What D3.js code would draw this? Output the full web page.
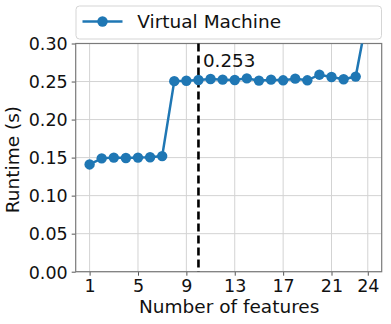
<!DOCTYPE html>
<html><head><meta charset="utf-8">
<script src="https://cdn.jsdelivr.net/npm/d3@7"></script>
<style>body{margin:0;background:#fff}svg{font-family:"DejaVu Sans",sans-serif}</style>
</head><body><svg id="c" width="391" height="324"></svg>
<script>
const features = [1,2,3,4,5,6,7,8,9,10,11,12,13,14,15,16,17,18,19,20,21,22,23,24];
const runtime = [0.141,0.149,0.150,0.1495,0.150,0.1505,0.152,0.2505,0.251,0.252,0.2533,0.2525,0.252,0.2542,0.2512,0.2525,0.2516,0.2538,0.2516,0.259,0.256,0.253,0.2565,0.34];
const xTicks = [1,5,9,13,17,21,24];
const yTicks = [0,0.05,0.10,0.15,0.20,0.25,0.30];
const seriesName = "Virtual Machine";
const markX = 10, markLabel = "0.253";

const svg = d3.select("#c");
const L=75.7,R=381.7,T=43.5,B=271.7;
const x = d3.scaleLinear().domain([-0.15,25.15]).range([L,R]);
const y = d3.scaleLinear().domain([0,0.30]).range([B,T]);

const defs = svg.append("defs");
defs.append("clipPath").attr("id","clip").append("rect").attr("x",L).attr("y",T).attr("width",R-L).attr("height",B-T);

// grid
svg.append("g").selectAll("line").data(xTicks).join("line")
 .attr("x1",d=>x(d)).attr("x2",d=>x(d)).attr("y1",T).attr("y2",B).attr("stroke","#d3d3d3").attr("stroke-width",1);
svg.append("g").selectAll("line").data(yTicks).join("line")
 .attr("x1",L).attr("x2",R).attr("y1",d=>y(d)).attr("y2",d=>y(d)).attr("stroke","#d3d3d3").attr("stroke-width",1);

// axes
const xa = svg.append("g").attr("transform",`translate(0,${B})`).call(d3.axisBottom(x).tickValues(xTicks).tickSize(4).tickPadding(4).tickFormat(d3.format("d")));
const ya = svg.append("g").attr("transform",`translate(${L},0)`).call(d3.axisLeft(y).tickValues(yTicks).tickSize(4).tickPadding(4).tickFormat(d3.format(".2f")));
[xa,ya].forEach(a=>{a.select(".domain").remove();a.selectAll("line").attr("stroke","#555");a.selectAll("text").attr("font-size","17.5px").attr("fill","#111").attr("font-family","DejaVu Sans");});
ya.selectAll("text").attr("dy","0.36em");

// spines
svg.append("rect").attr("x",L).attr("y",T).attr("width",R-L).attr("height",B-T).attr("fill","none").attr("stroke","#7a7a7a").attr("stroke-width",1.2);

// dashed line
svg.append("line").attr("x1",x(markX)).attr("x2",x(markX)).attr("y1",T).attr("y2",B)
 .attr("stroke","#000").attr("stroke-width",2.6).attr("stroke-dasharray","8,4");

const pts = features.map((f,i)=>[f,runtime[i]]);
const g = svg.append("g").attr("clip-path","url(#clip)");
g.append("path").datum(pts).attr("d",d3.line().x(d=>x(d[0])).y(d=>y(d[1])))
 .attr("fill","none").attr("stroke","#1f77b4").attr("stroke-width",2.5);
g.selectAll("circle").data(pts).join("circle").attr("cx",d=>x(d[0])).attr("cy",d=>y(d[1])).attr("r",5.2).attr("fill","#1f77b4");

svg.append("text").attr("x",x(markX)+4.5).attr("y",66.5).attr("font-size","18.3px").attr("fill","#111").text(markLabel);

// labels
svg.append("text").attr("x",(L+R)/2+0.5).attr("y",313).attr("text-anchor","middle").attr("font-size","18.5px").attr("fill","#111").text("Number of features");
svg.append("text").attr("transform",`translate(19,${(T+B)/2+2}) rotate(-90)`).attr("text-anchor","middle").attr("font-size","18.5px").attr("fill","#111").text("Runtime (s)");

// legend
svg.append("rect").attr("x",76).attr("y",6).attr("width",305.5).attr("height",33).attr("rx",3.5).attr("fill","#fff").attr("fill-opacity",0.85).attr("stroke","#d5d5d5").attr("stroke-width",1);
svg.append("line").attr("x1",82.5).attr("x2",122.5).attr("y1",21.5).attr("y2",21.5).attr("stroke","#1f77b4").attr("stroke-width",2.5);
svg.append("circle").attr("cx",102.5).attr("cy",21.5).attr("r",5.2).attr("fill","#1f77b4");
svg.append("text").attr("x",137.3).attr("y",28).attr("font-size","18.5px").attr("fill","#111").text(seriesName);
</script></body></html>
